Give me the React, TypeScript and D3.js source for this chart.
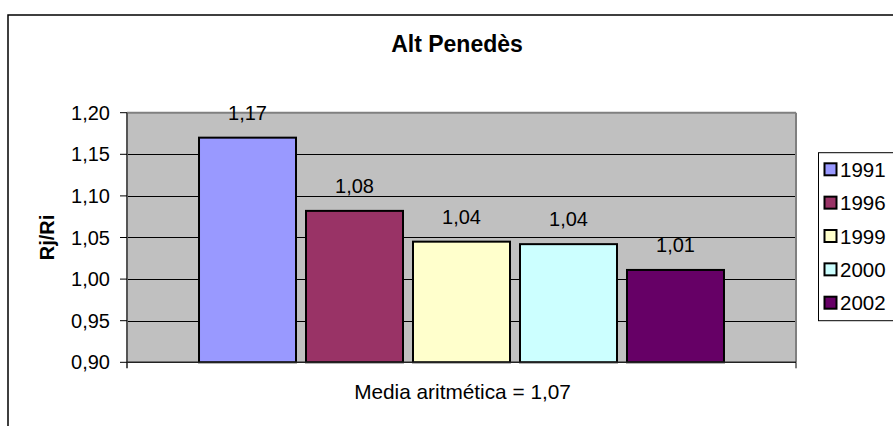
import React from "react";
import * as d3 from "d3";

const years = ["1991", "1996", "1999", "2000", "2002"];
const values = [1.17, 1.082, 1.045, 1.042, 1.011];
const valueLabels = ["1,17", "1,08", "1,04", "1,04", "1,01"];
const colors = ["#9999FF", "#993366", "#FFFFCC", "#CCFFFF", "#660066"];
const yTicks = [0.9, 0.95, 1.0, 1.05, 1.1, 1.15, 1.2];
const title = "Alt Penedès";
const yTitle = "Rj/Ri";
const xCaption = "Media aritmética = 1,07";

const W = 893;
const H = 426;
const plot = { left: 127, right: 796, top: 112.7, bottom: 362.3 };
const FONT = "'Liberation Sans', Arial, sans-serif";

export default function App() {
  const y = d3.scaleLinear().domain([0.9, 1.2]).range([plot.bottom, plot.top]);
  const x = d3
    .scaleBand<string>()
    .domain(years)
    .range([plot.left, plot.right])
    .paddingInner(0.0935)
    .paddingOuter(0.673);
  const fmt = (v: number) => d3.format(".2f")(v).replace(".", ",");

  return (
    <svg
      width={W}
      height={H}
      style={{ position: "absolute", left: 0, top: 0, background: "#fff" }}
      fontFamily={FONT}
    >
      {/* outer chart frame */}
      <rect x={8} y={15} width={1000} height={600} fill="#fff" stroke="#000" strokeWidth={1.5} />

      {/* title */}
      <text x={457} y={51.5} textAnchor="middle" fontSize={23} fontWeight="bold" fill="#000">
        {title}
      </text>

      {/* plot background */}
      <rect
        x={plot.left}
        y={plot.top}
        width={plot.right - plot.left}
        height={plot.bottom - plot.top}
        fill="#C0C0C0"
      />

      {/* gridlines */}
      {yTicks.slice(1, -1).map((t) => (
        <line key={t} x1={plot.left} x2={plot.right} y1={Math.round(y(t)) + 0.5} y2={Math.round(y(t)) + 0.5} stroke="#000" strokeWidth={1} />
      ))}

      {/* plot border */}
      <line x1={plot.left} x2={plot.right} y1={plot.top} y2={plot.top} stroke="#808080" strokeWidth={2} />
      <line x1={plot.right} x2={plot.right} y1={plot.top} y2={plot.bottom} stroke="#808080" strokeWidth={2} />

      {/* bars */}
      {years.map((yr, i) => (
        <rect
          key={yr}
          x={x(yr)!}
          y={y(values[i])}
          width={x.bandwidth()}
          height={plot.bottom - y(values[i])}
          fill={colors[i]}
          stroke="#000"
          strokeWidth={2}
        />
      ))}

      {/* value labels */}
      {years.map((yr, i) => (
        <text
          key={yr}
          x={x(yr)! + x.bandwidth() / 2}
          y={y(values[i]) - 18}
          textAnchor="middle"
          fontSize={20}
          fill="#000"
        >
          {valueLabels[i]}
        </text>
      ))}

      {/* y axis */}
      <line x1={plot.left} x2={plot.left} y1={plot.top} y2={plot.bottom + 6} stroke="#555" strokeWidth={2} />
      {yTicks.map((t) => (
        <g key={t}>
          <line x1={plot.left - 7} x2={plot.left} y1={y(t)} y2={y(t)} stroke="#000" strokeWidth={1} />
          <text x={110} y={y(t) + 7} textAnchor="end" fontSize={20} fill="#000">
            {fmt(t)}
          </text>
        </g>
      ))}

      {/* x axis */}
      <line x1={plot.left} x2={plot.right} y1={plot.bottom} y2={plot.bottom} stroke="#222" strokeWidth={1.5} />
      <line x1={plot.right} x2={plot.right} y1={plot.bottom} y2={plot.bottom + 6} stroke="#000" strokeWidth={1} />

      {/* y axis title */}
      <text
        transform={`translate(54, ${(plot.top + plot.bottom) / 2}) rotate(-90)`}
        textAnchor="middle"
        fontSize={20}
        fontWeight="bold"
        fill="#000"
      >
        {yTitle}
      </text>

      {/* caption */}
      <text x={462.5} y={399.3} textAnchor="middle" fontSize={20.8} fill="#000">
        {xCaption}
      </text>

      {/* legend */}
      <rect x={818.5} y={152.7} width={100} height={168} fill="#fff" stroke="#000" strokeWidth={1} />
      {years.map((yr, i) => {
        const cy = 169.3 + i * 33.35;
        return (
          <g key={yr}>
            <rect x={824.5} y={cy - 6} width={12} height={12} fill={colors[i]} stroke="#000" strokeWidth={2} />
            <text x={840} y={cy + 7.5} fontSize={20.5} fill="#000">
              {yr}
            </text>
          </g>
        );
      })}
    </svg>
  );
}
